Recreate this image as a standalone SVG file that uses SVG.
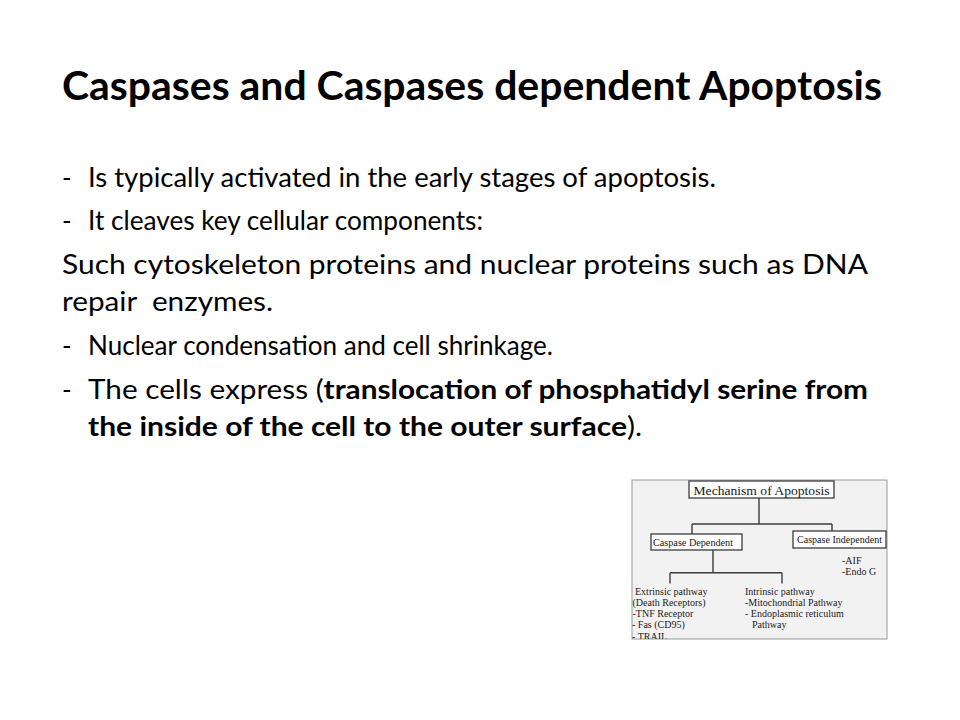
<svg xmlns="http://www.w3.org/2000/svg" width="960" height="720" viewBox="0 0 960 720">
<style>
.t{font-family:Lato,"Open Sans","Liberation Sans",sans-serif;fill:#000}
.title{font-size:40px;font-weight:bold}
.body{font-size:26px}
.b{font-weight:bold}
.s{font-family:"Liberation Serif","DejaVu Serif",serif;fill:#1a1a1a;font-size:10px}
.box{fill:#fdfdfd;stroke:#3c3c3c;stroke-width:1.3}
.ln{stroke:#3c3c3c;stroke-width:1.4;fill:none}
</style>
<defs>
<clipPath id="clipInset"><rect x="632" y="480" width="255" height="159"/></clipPath>
</defs>
<rect width="960" height="720" fill="#fff"/>
<g id="title">
<text class="t title" x="62" y="100" textLength="820" lengthAdjust="spacingAndGlyphs">Caspases and Caspases dependent Apoptosis</text>
</g>
<g id="body" class="t body">
<g id="line1"><text x="62" y="187">-</text><text x="88" y="187" textLength="628" lengthAdjust="spacingAndGlyphs">Is typically activated in the early stages of apoptosis.</text></g>
<g id="line2"><text x="62" y="230">-</text><text x="88" y="230" textLength="395" lengthAdjust="spacingAndGlyphs">It cleaves key cellular components:</text></g>
<g id="line3"><text x="62" y="274" textLength="806" lengthAdjust="spacingAndGlyphs">Such cytoskeleton proteins and nuclear proteins such as DNA</text>
<text x="62" y="311" textLength="211" lengthAdjust="spacingAndGlyphs" xml:space="preserve">repair  enzymes.</text></g>
<g id="line5"><text x="62" y="355">-</text><text x="88" y="355" textLength="465" lengthAdjust="spacingAndGlyphs">Nuclear condensation and cell shrinkage.</text></g>
<g id="line6"><text x="62" y="399">-</text><text x="88" y="399" textLength="780" lengthAdjust="spacingAndGlyphs">The cells express (<tspan class="b">translocation of phosphatidyl serine from</tspan></text>
<text x="88" y="436" textLength="554" lengthAdjust="spacingAndGlyphs"><tspan class="b">the inside of the cell to the outer surface</tspan>).</text></g>
</g>
<g id="inset">
<rect x="632" y="480" width="255" height="159" fill="#f2f2f2" stroke="#999" stroke-width="1"/>
<g clip-path="url(#clipInset)">
<g id="connectors">
<path class="ln" d="M759,498 V524 M692,524 H832 M692,524 V534 M832,524 V531"/>
<path class="ln" d="M713,550 V572.7 M670,572.7 H782 M670,572.7 V583.5 M782,572.7 V583.5"/>
</g>
<g id="n-mechanism">
<rect class="box" x="689" y="481" width="145" height="17"/>
<text class="s" x="761.5" y="494.5" text-anchor="middle" style="font-size:13.4px" textLength="136" lengthAdjust="spacingAndGlyphs">Mechanism of Apoptosis</text>
</g>
<g id="n-dependent">
<rect class="box" x="651" y="534" width="91" height="16"/>
<text class="s" x="653" y="546" textLength="80" lengthAdjust="spacingAndGlyphs">Caspase Dependent</text>
</g>
<g id="n-independent">
<rect class="box" x="793" y="531" width="93" height="17"/>
<text class="s" x="797" y="543" textLength="85" lengthAdjust="spacingAndGlyphs">Caspase Independent</text>
</g>
<g id="n-independent-list">
<text class="s" x="842" y="563.5">-AIF</text>
<text class="s" x="842" y="574.5">-Endo G</text>
</g>
<g id="n-extrinsic">
<text class="s" x="635" y="595">Extrinsic pathway</text>
<text class="s" x="632.5" y="606">(Death Receptors)</text>
<text class="s" x="632.5" y="617">-TNF Receptor</text>
<text class="s" x="632" y="628" xml:space="preserve">- Fas (CD95)</text>
<text class="s" x="632" y="639.5">- TRAIL</text>
</g>
<g id="n-intrinsic">
<text class="s" x="745" y="595">Intrinsic pathway</text>
<text class="s" x="745" y="606">-Mitochondrial Pathway</text>
<text class="s" x="745" y="617">- Endoplasmic reticulum</text>
<text class="s" x="752" y="628">Pathway</text>
</g>
</g>
</g>
</svg>
